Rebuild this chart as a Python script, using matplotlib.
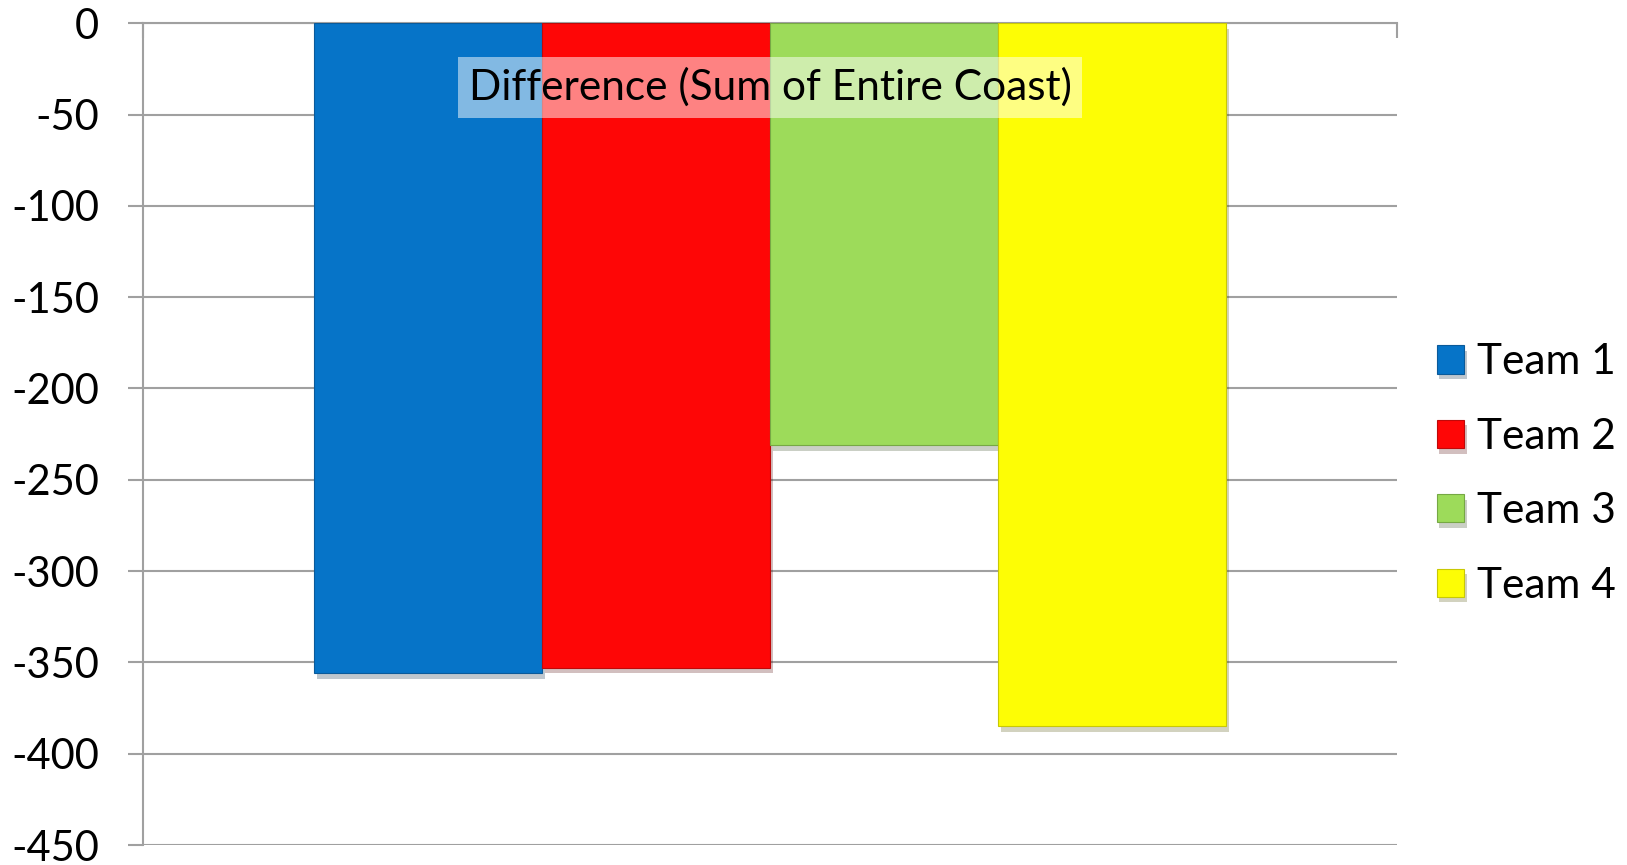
import matplotlib
matplotlib.use("Agg")
import matplotlib.pyplot as plt
import matplotlib.patheffects as pe

# chart data
teams = ["Team 1", "Team 2", "Team 3", "Team 4"]
values = [-356, -353, -231, -385]
colors = ["#0674c8", "#fe0606", "#9ddb5a", "#fdfd05"]
edges = ["#0a5a9a", "#c00808", "#76a844", "#c8c804"]
yticks = [0, -50, -100, -150, -200, -250, -300, -350, -400, -450]
title = "Difference (Sum of Entire Coast)"

plt.rcParams['font.family'] = ['Lato', 'DejaVu Sans']
plt.rcParams['axes.unicode_minus'] = False
grid_c = "#a0a0a0"

fig = plt.figure(figsize=(16.27, 8.65), dpi=100)
ax = fig.add_axes([0.0881, 0.0231, 0.8588 - 0.0881, 0.9731 - 0.0231])

ax.set_ylim(-450, 0)
ax.set_xlim(-1.25, 4.25)
ax.set_yticks(yticks)
ax.yaxis.grid(True, color=grid_c, linewidth=1.5)
ax.set_axisbelow(True)

for i, (t, v) in enumerate(zip(teams, values)):
  ax.bar(i, v, width=1.0, color=colors[i], edgecolor=edges[i], linewidth=0.8,
         label=t, zorder=3,
         path_effects=[pe.SimplePatchShadow(offset=(2, -4), alpha=0.25), pe.Normal()])

for s in ["right", "bottom"]:
  ax.spines[s].set_visible(False)
ax.spines["left"].set_color(grid_c)
ax.spines["left"].set_linewidth(1.5)
ax.spines["top"].set_color(grid_c)
ax.spines["top"].set_linewidth(1.5)

ax.tick_params(axis="y", length=10.8, width=1.5, color=grid_c, pad=21,
               labelsize=30, labelcolor="black")
ax.xaxis.set_ticks_position("top")
ax.set_xticks([-1.25, 4.25])
ax.tick_params(axis="x", direction="in", length=10.8, width=1.5, color=grid_c,
               labeltop=False, labelbottom=False)

ax.text(0.5, 0.922, title, transform=ax.transAxes, ha="center", va="center",
        fontsize=30.5, color="black", zorder=5,
        bbox=dict(boxstyle="square,pad=0.25", facecolor="white", alpha=0.5,
                  edgecolor="none"))

fig.legend(loc="center left", bbox_to_anchor=(0.8725, 0.452), frameon=False,
           fontsize=30.5, handlelength=0.65, handleheight=0.65,
           handletextpad=0.3, labelspacing=0.86, borderaxespad=0)

fig.savefig("out.png", dpi=100)
